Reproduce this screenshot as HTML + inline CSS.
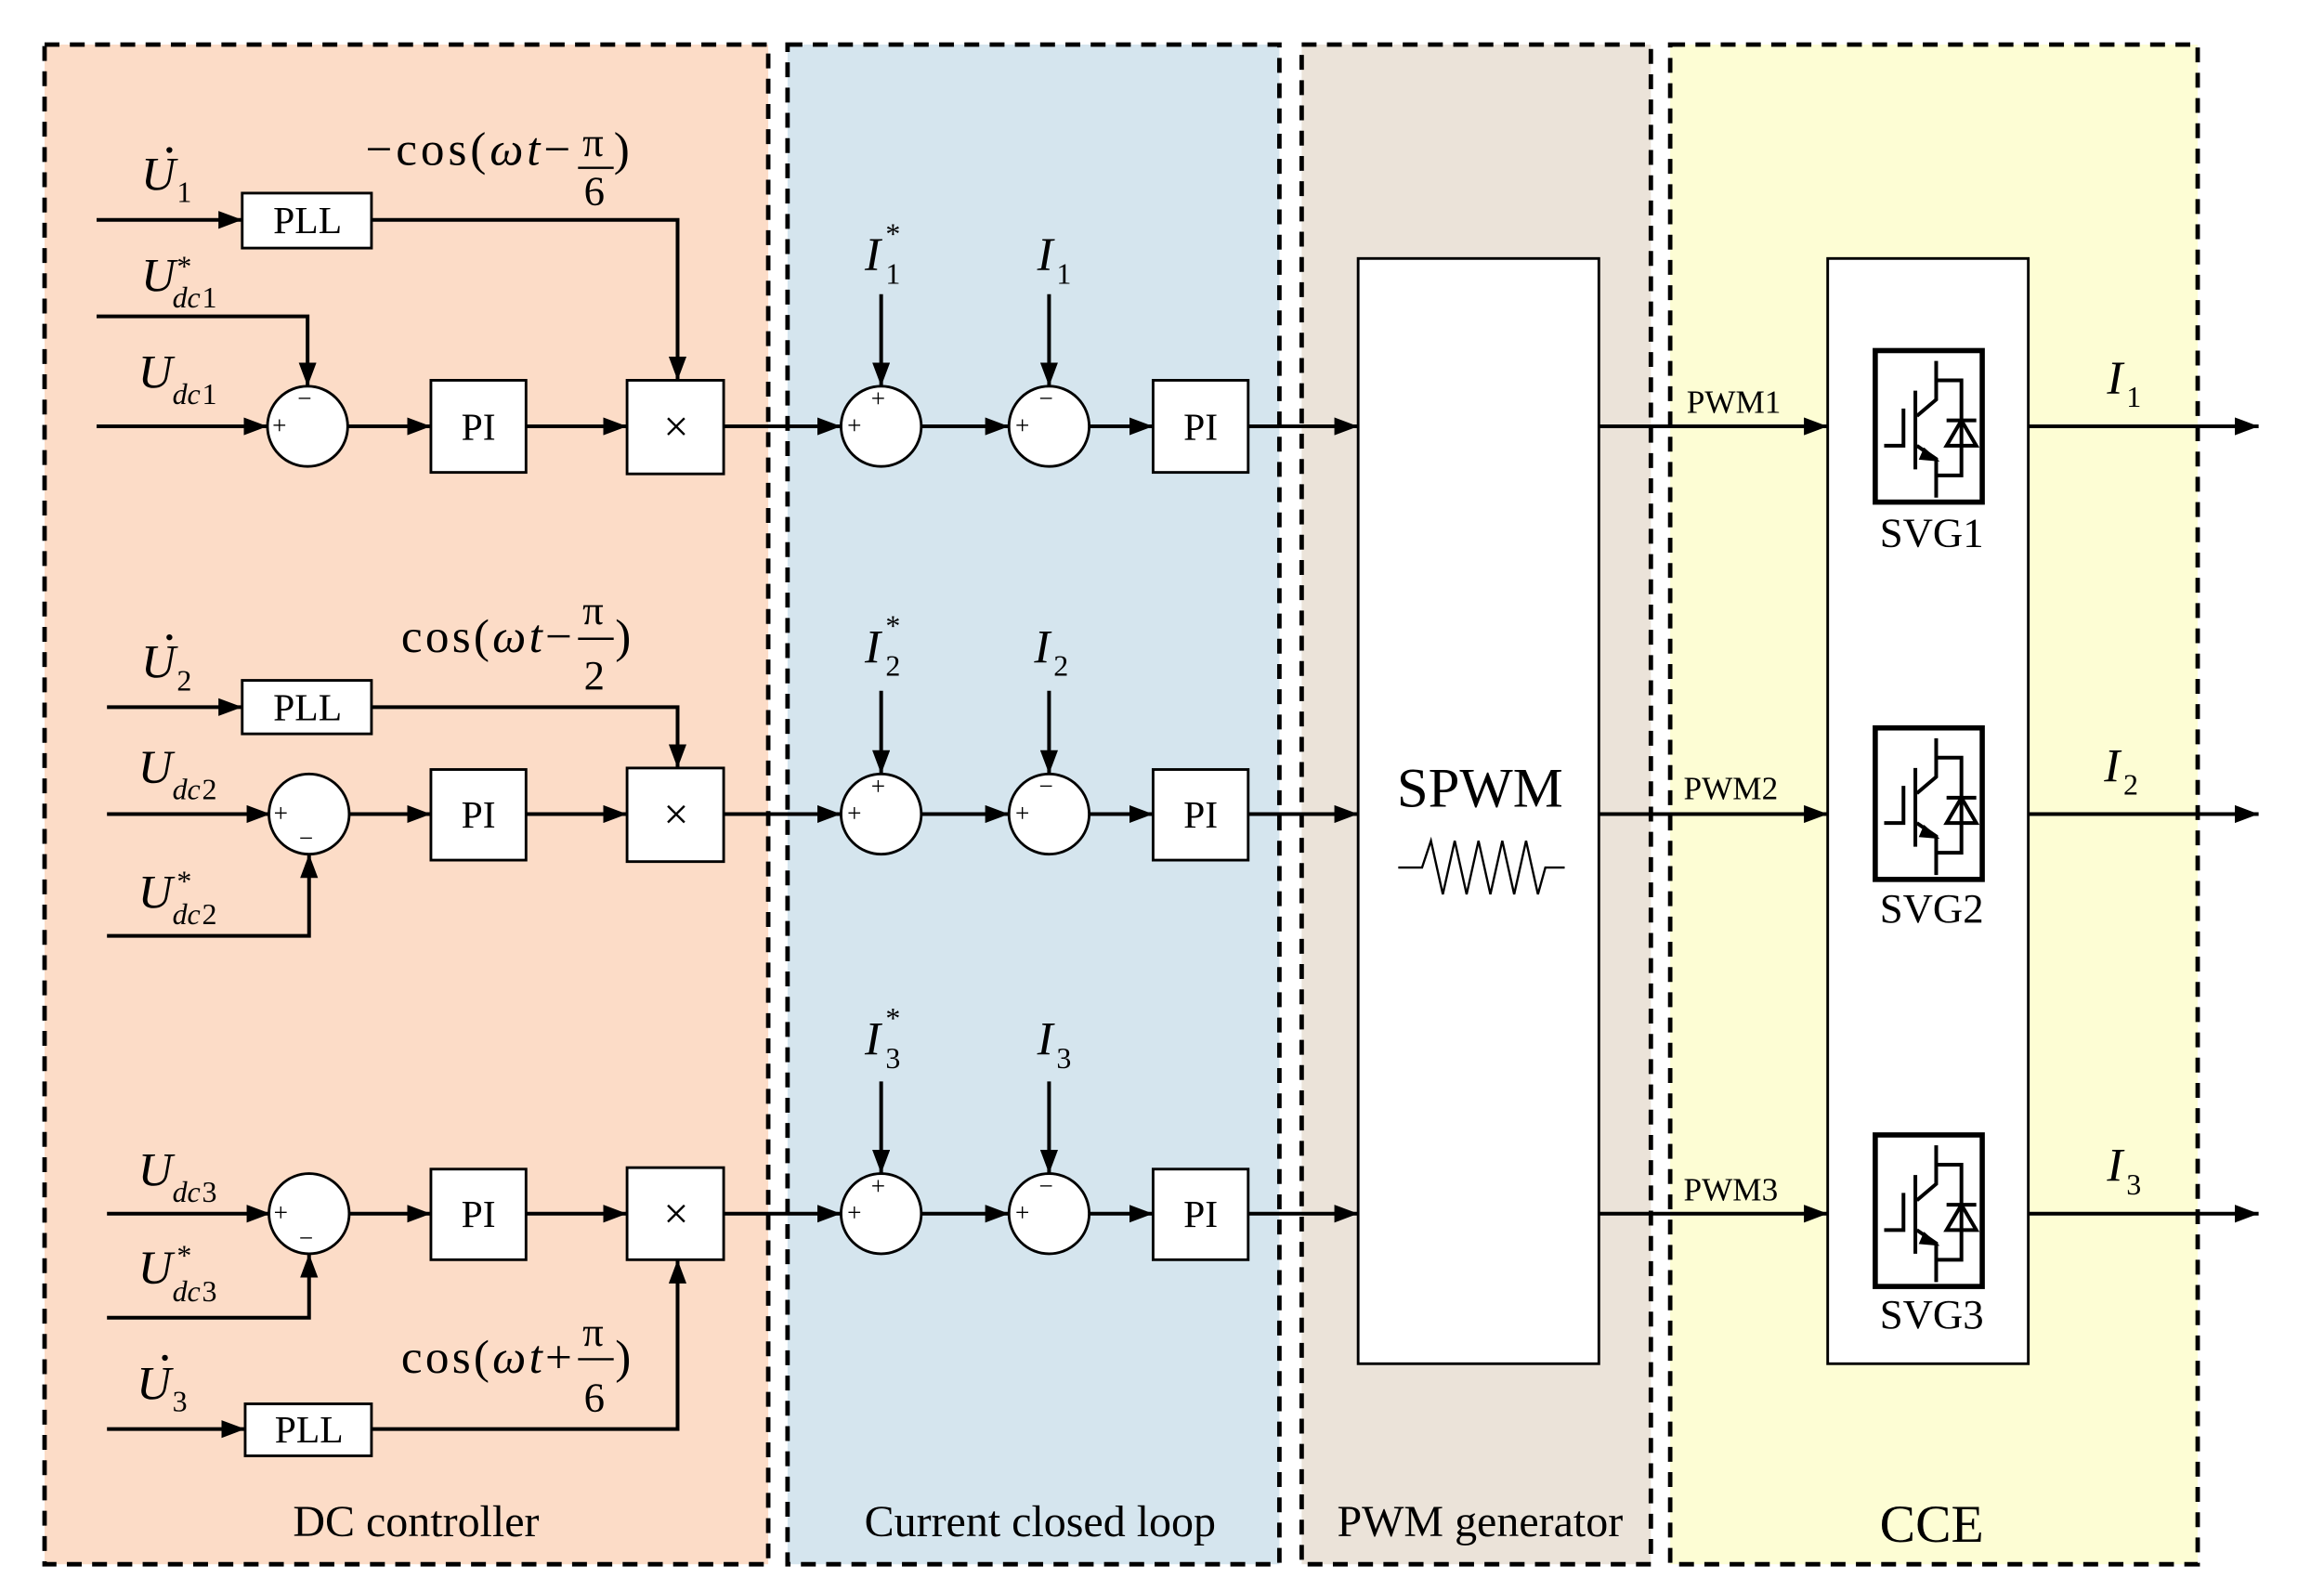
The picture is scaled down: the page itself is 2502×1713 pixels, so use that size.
<!DOCTYPE html>
<html><head><meta charset="utf-8"><style>
html,body{margin:0;padding:0;background:#fff}
svg{display:block}
text{font-family:"Liberation Serif","DejaVu Serif",serif;fill:#000}
.i{font-style:italic}
</style></head><body>
<svg width="2502" height="1713" viewBox="0 0 1564 1071" preserveAspectRatio="none" xmlns="http://www.w3.org/2000/svg">
<defs>
<marker id="a" markerWidth="16" markerHeight="12" refX="16" refY="6" orient="auto" markerUnits="userSpaceOnUse">
<path d="M0,0 L16,6 L0,12 z" fill="#000"/></marker>
<g id="igbt" fill="none" stroke="#000" stroke-width="2.5">
<rect x="0" y="0" width="72" height="102" stroke-width="3.5"/>
<path d="M6,64 H19 V39"/>
<path d="M27,27 V80"/>
<path d="M28,44 L41,33 V7 M41,20 H58 V84 H41"/>
<path d="M28,64 L41,73 V99"/>
<path d="M33,66 L42,74 L30,73 z" fill="#000" stroke-width="1"/>
<path d="M48,47 H68 M58,47 L48,64 H68 z"/>
</g>
</defs>
<g stroke="#000" stroke-width="3" stroke-dasharray="10,7">
<rect x="30" y="30" width="487" height="1023" fill="#fcdcc7"/>
<rect x="530" y="30" width="331" height="1023" fill="#d5e5ee"/>
<rect x="876" y="30" width="235" height="1023" fill="#ebe3d9"/>
<rect x="1124" y="30" width="355" height="1023" fill="#fdfdd4"/>
</g>
<g font-size="30" text-anchor="middle">
<text x="280" y="1034">DC controller</text>
<text x="700" y="1034">Current closed loop</text>
<text x="996" y="1034">PWM generator</text>
<text x="1300" y="1038" font-size="36">CCE</text>
</g>

<g stroke="#000" stroke-width="2.5" fill="none">
<path d="M65,148 H163" marker-end="url(#a)"/>
<path d="M250,148 H456 V256" marker-end="url(#a)"/>
<path d="M65,213 H207 V260" marker-end="url(#a)"/>
<path d="M65,287 H180" marker-end="url(#a)"/>
<path d="M234,287 H290" marker-end="url(#a)"/>
<path d="M354,287 H422" marker-end="url(#a)"/>
<path d="M487,287 H566" marker-end="url(#a)"/>
<path d="M72,476 H163" marker-end="url(#a)"/>
<path d="M250,476 H456 V517" marker-end="url(#a)"/>
<path d="M72,548 H182" marker-end="url(#a)"/>
<path d="M72,630 H208 V575" marker-end="url(#a)"/>
<path d="M235,548 H290" marker-end="url(#a)"/>
<path d="M354,548 H422" marker-end="url(#a)"/>
<path d="M487,548 H566" marker-end="url(#a)"/>
<path d="M72,817 H182" marker-end="url(#a)"/>
<path d="M72,887 H208 V844" marker-end="url(#a)"/>
<path d="M235,817 H290" marker-end="url(#a)"/>
<path d="M354,817 H422" marker-end="url(#a)"/>
<path d="M72,962 H165" marker-end="url(#a)"/>
<path d="M250,962 H456 V848" marker-end="url(#a)"/>
<path d="M487,817 H566" marker-end="url(#a)"/>
</g>
<g stroke="#000" stroke-width="2.5" fill="none">
<path d="M593,198 V260" marker-end="url(#a)"/><path d="M706,198 V260" marker-end="url(#a)"/>
<path d="M620,287 H679" marker-end="url(#a)"/><path d="M733,287 H776" marker-end="url(#a)"/><path d="M840,287 H914" marker-end="url(#a)"/>
<path d="M593,465 V521" marker-end="url(#a)"/><path d="M706,465 V521" marker-end="url(#a)"/>
<path d="M620,548 H679" marker-end="url(#a)"/><path d="M733,548 H776" marker-end="url(#a)"/><path d="M840,548 H914" marker-end="url(#a)"/>
<path d="M593,728 V790" marker-end="url(#a)"/><path d="M706,728 V790" marker-end="url(#a)"/>
<path d="M620,817 H679" marker-end="url(#a)"/><path d="M733,817 H776" marker-end="url(#a)"/><path d="M840,817 H914" marker-end="url(#a)"/>
<path d="M1076,287 H1230" marker-end="url(#a)"/><path d="M1076,548 H1230" marker-end="url(#a)"/><path d="M1076,817 H1230" marker-end="url(#a)"/>
<path d="M1365,287 H1520" marker-end="url(#a)"/><path d="M1365,548 H1520" marker-end="url(#a)"/><path d="M1365,817 H1520" marker-end="url(#a)"/>
</g>
<g fill="#fff" stroke="#000" stroke-width="1.8">
<rect x="163" y="130" width="87" height="37"/><rect x="163" y="458" width="87" height="36"/><rect x="165" y="945" width="85" height="35"/>
<rect x="290" y="256" width="64" height="62"/><rect x="290" y="518" width="64" height="61"/><rect x="290" y="787" width="64" height="61"/>
<rect x="422" y="256" width="65" height="63"/><rect x="422" y="517" width="65" height="63"/><rect x="422" y="786" width="65" height="62"/>
<rect x="776" y="256" width="64" height="62"/><rect x="776" y="518" width="64" height="61"/><rect x="776" y="787" width="64" height="61"/>
<circle cx="207" cy="287" r="27"/><circle cx="208" cy="548" r="27"/><circle cx="208" cy="817" r="27"/>
<circle cx="593" cy="287" r="27"/><circle cx="706" cy="287" r="27"/>
<circle cx="593" cy="548" r="27"/><circle cx="706" cy="548" r="27"/>
<circle cx="593" cy="817" r="27"/><circle cx="706" cy="817" r="27"/>
<rect x="914" y="174" width="162" height="744"/>
<rect x="1230" y="174" width="135" height="744"/>
</g>
<g font-size="26" text-anchor="middle">
<text x="207" y="157">PLL</text><text x="207" y="485">PLL</text><text x="208" y="971">PLL</text>
<text x="322" y="296">PI</text><text x="322" y="557">PI</text><text x="322" y="826">PI</text>
<text x="808" y="296">PI</text><text x="808" y="557">PI</text><text x="808" y="826">PI</text>
<text x="455" y="297" font-size="30">×</text><text x="455" y="558" font-size="30">×</text><text x="455" y="827" font-size="30">×</text>
</g>
<g font-size="17" text-anchor="middle">
<text x="188" y="292">+</text><text x="205" y="274">−</text>
<text x="189" y="553">+</text><text x="206" y="570">−</text>
<text x="189" y="822">+</text><text x="206" y="839">−</text>
<text x="575" y="292">+</text><text x="591" y="274">+</text><text x="688" y="292">+</text><text x="704" y="274">−</text>
<text x="575" y="553">+</text><text x="591" y="535">+</text><text x="688" y="553">+</text><text x="704" y="535">−</text>
<text x="575" y="822">+</text><text x="591" y="804">+</text><text x="688" y="822">+</text><text x="704" y="804">−</text>
</g>
<g fill="#000">
<circle cx="114" cy="101" r="2"/><circle cx="114" cy="429" r="2"/><circle cx="111" cy="914" r="2"/>
</g>
<g font-size="32">
<text x="95" y="128" class="i">U</text><text x="119" y="136" font-size="20">1</text>
<text x="95" y="196" class="i">U</text><text x="119" y="186" font-size="20">*</text><text x="116" y="207" font-size="20" class="i">dc</text><text x="136" y="207" font-size="20">1</text>
<text x="93" y="261" class="i">U</text><text x="116" y="272" font-size="20" class="i">dc</text><text x="136" y="272" font-size="20">1</text>
<text x="95" y="456" class="i">U</text><text x="119" y="465" font-size="20">2</text>
<text x="93" y="527" class="i">U</text><text x="116" y="538" font-size="20" class="i">dc</text><text x="136" y="538" font-size="20">2</text>
<text x="93" y="611" class="i">U</text><text x="119" y="600" font-size="20">*</text><text x="116" y="622" font-size="20" class="i">dc</text><text x="136" y="622" font-size="20">2</text>
<text x="93" y="798" class="i">U</text><text x="116" y="809" font-size="20" class="i">dc</text><text x="136" y="809" font-size="20">3</text>
<text x="93" y="864" class="i">U</text><text x="119" y="852" font-size="20">*</text><text x="116" y="876" font-size="20" class="i">dc</text><text x="136" y="876" font-size="20">3</text>
<text x="92" y="942" class="i">U</text><text x="116" y="950" font-size="20">3</text>
<text x="246" y="111" textLength="138" lengthAdjust="spacing">−cos(<tspan class="i">ωt</tspan>−</text><text x="392" y="105" font-size="28">π</text><line x1="389" y1="113" x2="413" y2="113" stroke="#000" stroke-width="1.5"/><text x="393" y="138" font-size="28">6</text><text x="413" y="111">)</text>
<text x="270" y="439" textLength="115" lengthAdjust="spacing">cos(<tspan class="i">ωt</tspan>−</text><text x="392" y="420" font-size="28">π</text><line x1="389" y1="430" x2="413" y2="430" stroke="#000" stroke-width="1.5"/><text x="393" y="464" font-size="28">2</text><text x="414" y="439">)</text>
<text x="270" y="924" textLength="115" lengthAdjust="spacing">cos(<tspan class="i">ωt</tspan>+</text><text x="392" y="906" font-size="28">π</text><line x1="389" y1="915" x2="413" y2="915" stroke="#000" stroke-width="1.5"/><text x="393" y="950" font-size="28">6</text><text x="414" y="924">)</text>
<text x="582" y="182" class="i">I</text><text x="596" y="164" font-size="20">*</text><text x="596" y="191" font-size="20">1</text>
<text x="698" y="182" class="i">I</text><text x="711" y="191" font-size="20">1</text>
<text x="582" y="446" class="i">I</text><text x="596" y="428" font-size="20">*</text><text x="596" y="455" font-size="20">2</text>
<text x="696" y="446" class="i">I</text><text x="709" y="455" font-size="20">2</text>
<text x="582" y="710" class="i">I</text><text x="596" y="692" font-size="20">*</text><text x="596" y="719" font-size="20">3</text>
<text x="698" y="710" class="i">I</text><text x="711" y="719" font-size="20">3</text>
<text x="1418" y="265" class="i">I</text><text x="1431" y="274" font-size="20">1</text>
<text x="1416" y="526" class="i">I</text><text x="1429" y="535" font-size="20">2</text>
<text x="1418" y="795" class="i">I</text><text x="1431" y="804" font-size="20">3</text>
</g>
<g font-size="22">
<text x="1135" y="278">PWM1</text><text x="1133" y="538">PWM2</text><text x="1133" y="808">PWM3</text>
</g>
<text x="996" y="543" font-size="38" text-anchor="middle">SPWM</text>
<path d="M941,584 H957 L963,566 L971,602 L979,566 L987,602 L995,566 L1003,602 L1011,566 L1019,602 L1027,566 L1035,602 L1040,584 H1053" fill="none" stroke="#000" stroke-width="1.5"/>
<use href="#igbt" x="1262" y="236"/><use href="#igbt" x="1262" y="490"/><use href="#igbt" x="1262" y="764"/>
<g font-size="28" text-anchor="middle">
<text x="1300" y="368">SVG1</text><text x="1300" y="621">SVG2</text><text x="1300" y="894">SVG3</text>
</g>
</svg>
</body></html>
